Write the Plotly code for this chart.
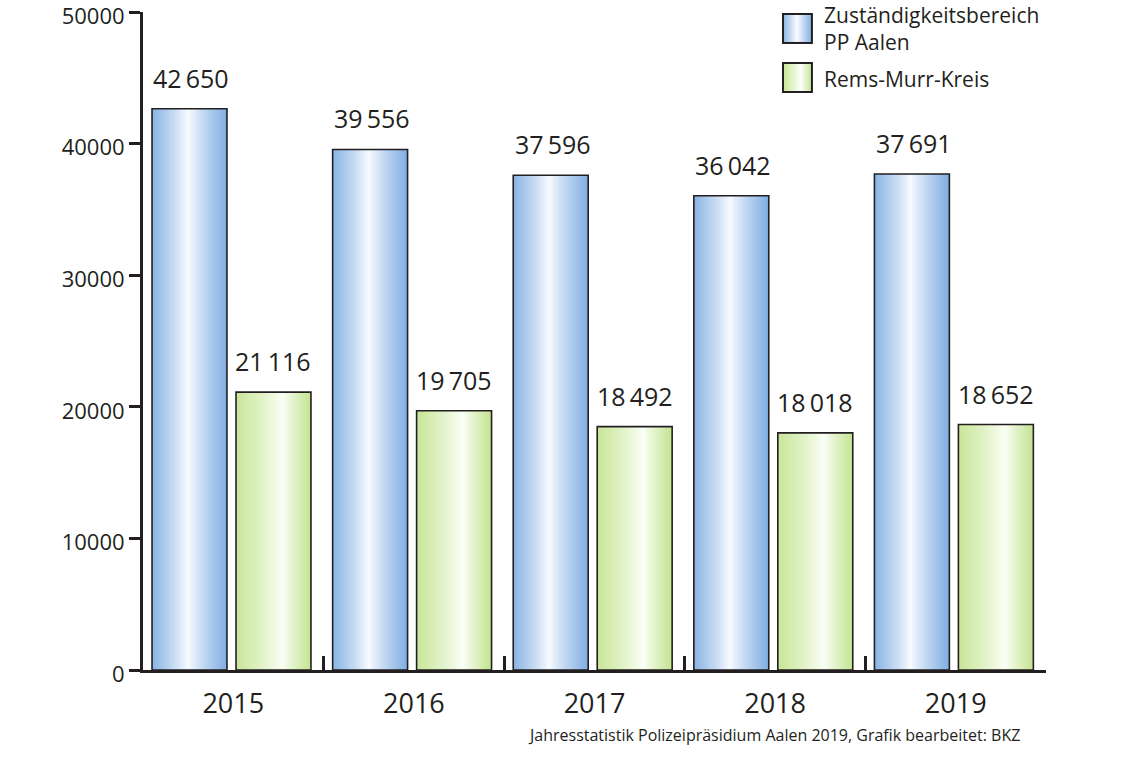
import base64
import plotly.graph_objects as go

# Jahresstatistik Polizeipräsidium Aalen 2019
years = ["2015", "2016", "2017", "2018", "2019"]
pp_aalen = [42650, 39556, 37596, 36042, 37691]
rems_murr = [21116, 19705, 18492, 18018, 18652]

series_names = ["Zuständigkeitsbereich<br>PP Aalen", "Rems-Murr-Kreis"]
source_text = "Jahresstatistik Polizeipräsidium Aalen 2019, Grafik bearbeitet: BKZ"

FONT = "Open Sans"
INK = "#231f20"
N_STRIPES = 40
BAR_W = 0.415

# gradient: left edge, light peak, right edge, peak position
blue = ((138, 180, 228), (250, 252, 255), (128, 174, 226), 0.48)
green = ((200, 230, 152), (252, 255, 248), (196, 228, 146), 0.62)


def grad(spec, f):
    left, peak, right, p = spec
    if f <= p:
        t = (p - f) / p
        edge = left
    else:
        t = (f - p) / (1 - p)
        edge = right
    t = t ** 0.85
    c = [round(peak[k] + (edge[k] - peak[k]) * t) for k in range(3)]
    return "rgb({},{},{})".format(*c)


def hexcol(rgb):
    return "#%02x%02x%02x" % rgb


def swatch(spec):
    left, peak, right, p = spec
    svg = ('<svg xmlns="http://www.w3.org/2000/svg" width="31" height="31">'
           '<defs><linearGradient id="g" x1="0" x2="1" y1="0" y2="0">'
           f'<stop offset="0" stop-color="{hexcol(left)}"/>'
           f'<stop offset="{p}" stop-color="{hexcol(peak)}"/>'
           f'<stop offset="1" stop-color="{hexcol(right)}"/>'
           '</linearGradient></defs>'
           f'<rect x="1" y="1" width="29" height="29" fill="url(#g)" stroke="{INK}" stroke-width="2"/>'
           '</svg>')
    return "data:image/svg+xml;base64," + base64.b64encode(svg.encode()).decode()


fig = go.Figure()

for values, spec, base in [(pp_aalen, blue, -0.45), (rems_murr, green, 0.015)]:
    sw = BAR_W / N_STRIPES
    for i in range(N_STRIPES):
        fig.add_trace(go.Bar(
            x=years, y=values,
            offset=base + i * sw,
            width=sw * (1.0 if i == N_STRIPES - 1 else 1.6),
            marker=dict(color=grad(spec, (i + 0.5) / N_STRIPES), line_width=0),
            hoverinfo="skip", showlegend=False,
        ))
    # outline
    fig.add_trace(go.Bar(
        x=years, y=values, offset=base, width=BAR_W,
        marker=dict(color="rgba(0,0,0,0)", line=dict(color=INK, width=1.6)),
        showlegend=False,
    ))

# value labels (category axis -> annotation x is the category index)
for values, xs in [(pp_aalen, -42), (rems_murr, 40)]:
    for i, v in enumerate(values):
        fig.add_annotation(
            x=i, y=v, text=f"{v:,}".replace(",", "\u2009"),
            showarrow=False, xshift=xs, yshift=12, yanchor="bottom",
            font=dict(family=FONT, size=25, color=INK),
        )

# legend
fig.add_layout_image(source=swatch(blue), xref="paper", yref="paper",
                     x=0.7076, y=0.9985, sizex=0.0343, sizey=0.0471,
                     sizing="stretch", xanchor="left", yanchor="top", layer="above")
fig.add_layout_image(source=swatch(green), xref="paper", yref="paper",
                     x=0.7076, y=0.924, sizex=0.0343, sizey=0.0471,
                     sizing="stretch", xanchor="left", yanchor="top", layer="above")
fig.add_annotation(x=0.752, y=1.02, xref="paper", yref="paper", text=series_names[0],
                   showarrow=False, xanchor="left", yanchor="top", align="left",
                   font=dict(family=FONT, size=21, color=INK))
fig.add_annotation(x=0.752, y=0.898, xref="paper", yref="paper", text=series_names[1],
                   showarrow=False, xanchor="left", yanchor="middle", align="left",
                   font=dict(family=FONT, size=21, color=INK))

fig.add_annotation(x=0.9734, y=-0.0988, xref="paper", yref="paper", text=source_text,
                   showarrow=False, xanchor="right", yanchor="middle",
                   font=dict(family=FONT, size=16, color=INK))

fig.update_layout(
    width=1140, height=760,
    margin=dict(l=143, r=94, t=12, b=90),
    barmode="overlay",
    paper_bgcolor="white", plot_bgcolor="white",
    font=dict(family=FONT, color=INK),
    xaxis=dict(
        type="category", range=[-0.5, 4.5], automargin=False,
        showline=True, linewidth=3, linecolor=INK,
        ticks="inside", tickson="boundaries", ticklen=14, tickwidth=3, tickcolor=INK,
        showgrid=False, tickfont=dict(size=27, color=INK),
        ticklabelstandoff=8,
    ),
    yaxis=dict(
        range=[0, 50000], dtick=10000, tickformat="d", automargin=False,
        showline=True, linewidth=3, linecolor=INK,
        ticks="outside", ticklen=11, tickwidth=3, tickcolor=INK,
        showgrid=False, zeroline=False, tickfont=dict(size=22, color=INK),
        ticklabelstandoff=0, ticklabelshift=4, ticklabeloverflow="allow",
    ),
)

fig.write_html("out.html", config={"displayModeBar": False},
               post_script="document.body.style.margin='0';")
